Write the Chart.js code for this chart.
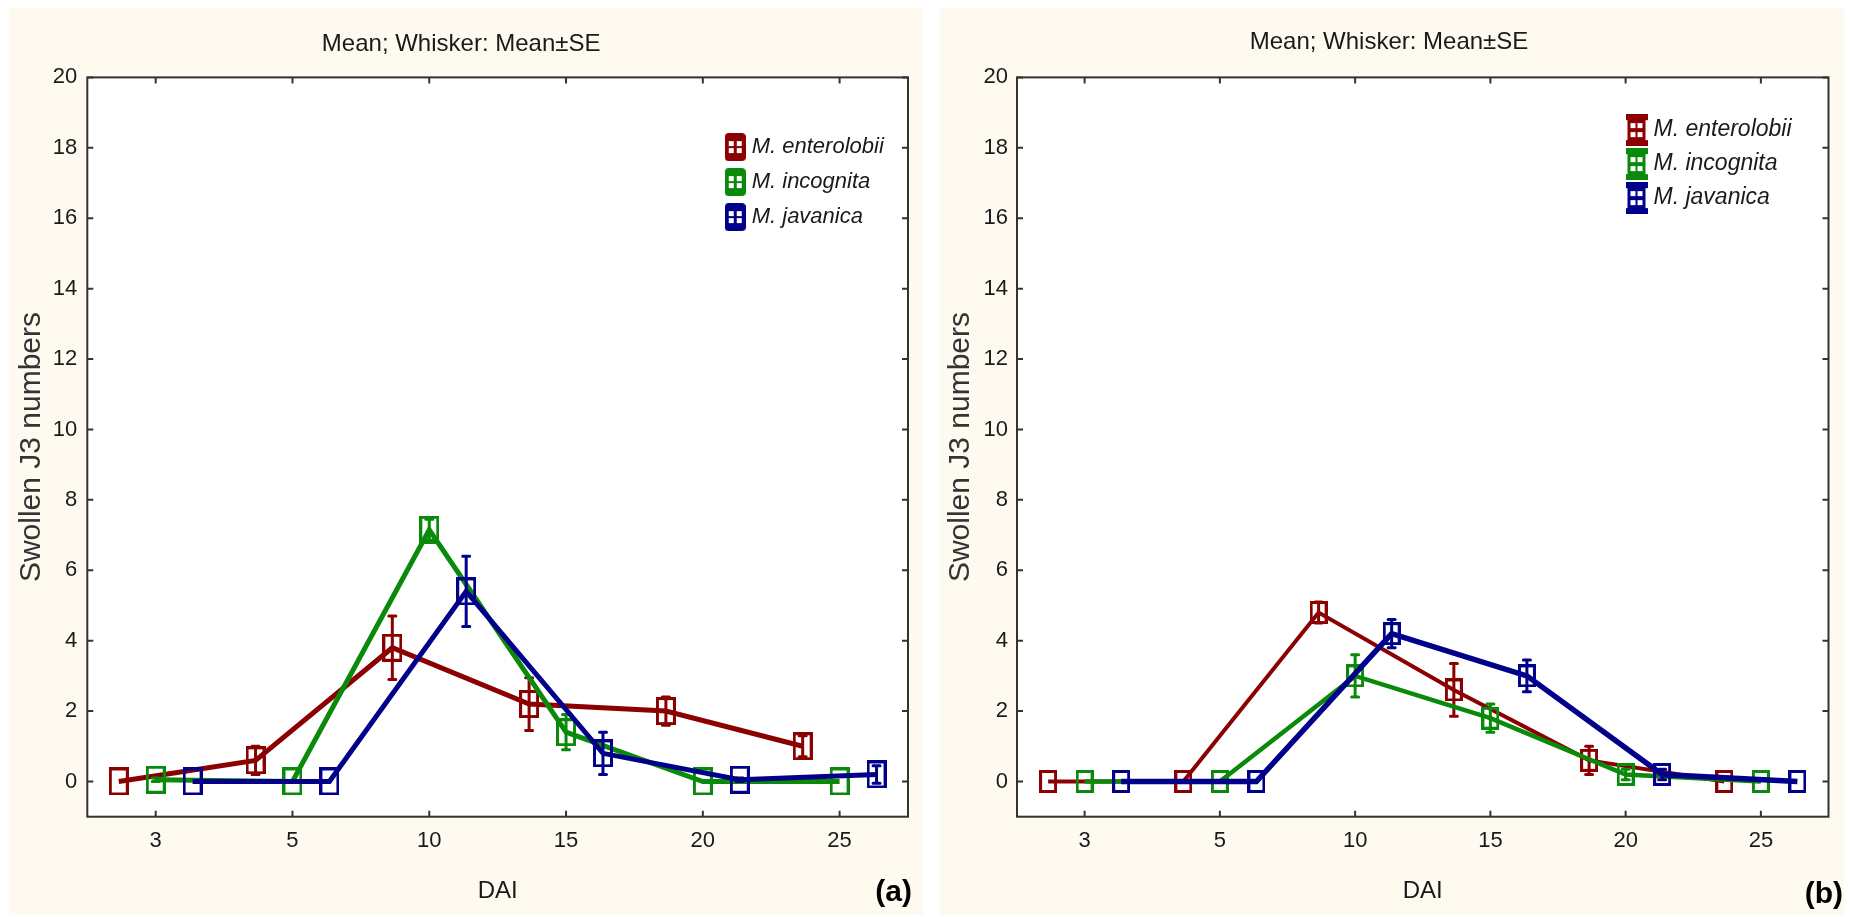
<!DOCTYPE html>
<html>
<head>
<meta charset="utf-8">
<script src="https://cdn.jsdelivr.net/npm/chart.js@4.4.1/dist/chart.umd.min.js"></script>
<style>
  body { margin: 0; background: #fff; width: 1854px; height: 917px; overflow: hidden; position: relative; }
  .panel { position: absolute; top: 8px; height: 907px; background: #fefaf0; }
  #pa { left: 9px; width: 914px; }
  #pb { left: 940px; width: 904px; }
  canvas { display: block; }
</style>
</head>
<body>
<div class="panel" id="pa"><canvas id="ca"></canvas></div>
<div class="panel" id="pb"><canvas id="cb"></canvas></div>
<script>
// ── Data ──
const DAI     = ['3', '5', '10', '15', '20', '25'];
const SERIES  = ['M. enterolobii', 'M. incognita', 'M. javanica'];
const Y_TICKS = [0, 2, 4, 6, 8, 10, 12, 14, 16, 18, 20];

// panel (a): mean and SE per DAI
const A_ENT    = [0.0, 0.6, 3.8, 2.2, 2.0, 1.0];
const A_ENT_SE = [0, 0.4, 0.9, 0.75, 0.4, 0.3];
const A_INC    = [0.05, 0.0, 7.15, 1.4, 0.0, 0.0];
const A_INC_SE = [0.05, 0, 0.3, 0.5, 0, 0];
const A_JAV    = [0.0, 0.0, 5.4, 0.8, 0.05, 0.2];
const A_JAV_SE = [0, 0, 1.0, 0.6, 0.05, 0.25];

// panel (b)
const B_ENT    = [0, 0, 4.8, 2.6, 0.6, 0];
const B_ENT_SE = [0, 0, 0.3, 0.75, 0.4, 0];
const B_INC    = [0, 0, 3.0, 1.8, 0.2, 0];
const B_INC_SE = [0, 0, 0.6, 0.4, 0.15, 0];
const B_JAV    = [0, 0, 4.2, 3.0, 0.2, 0];
const B_JAV_SE = [0, 0, 0.4, 0.45, 0.15, 0];

// ── Style ──
const COLORS = ['#8b0000', '#0a8a0a', '#00008b'];
const DODGE  = [-0.27, 0, 0.27];
const INK    = '#1a1a1a';

function hasFont(name) {
  const g = document.createElement('canvas').getContext('2d');
  const s = 'abcdefMW0123';
  for (const fb of ['monospace', 'serif']) {
    g.font = '40px ' + fb;
    const w0 = g.measureText(s).width;
    g.font = `40px "${name}", ${fb}`;
    if (g.measureText(s).width !== w0) return true;
  }
  return false;
}
const NARROW = hasFont('Liberation Sans Narrow');
const NF = NARROW ? '"Liberation Sans Narrow", "Liberation Sans", sans-serif' : '"Liberation Sans", Arial, sans-serif';
const TITLE_SIZE = NARROW ? 26 : 24;
const TICK_SIZE  = NARROW ? 24 : 22;
const DAI_SIZE   = NARROW ? 26 : 24;

// hollow box marker
function boxMarker(color, w, h, lw) {
  const c = document.createElement('canvas');
  c.width = w + lw; c.height = h + lw;
  const g = c.getContext('2d');
  g.strokeStyle = color; g.lineWidth = lw;
  g.strokeRect(lw / 2, lw / 2, w, h);
  return c;
}

// legend icons
function legendIconA(color) {
  const c = document.createElement('canvas');
  c.width = 21; c.height = 28;
  const g = c.getContext('2d');
  g.fillStyle = color;
  g.beginPath(); g.roundRect(0, 0, 21, 28, 4); g.fill();
  g.fillStyle = '#fff';
  [[4, 8], [12, 8], [4, 15], [12, 15]].forEach(([x, y]) => g.fillRect(x, y, 5, 5));
  return c;
}
function legendIconB(color) {
  const c = document.createElement('canvas');
  c.width = 22; c.height = 32;
  const g = c.getContext('2d');
  g.fillStyle = color;
  g.fillRect(0, 0, 22, 32);
  g.fillStyle = '#fff';
  g.fillRect(0, 6, 2, 20); g.fillRect(20, 6, 2, 20);
  [[5, 9], [12, 9], [5, 18], [12, 18]].forEach(([x, y]) => g.fillRect(x, y, 5, 5));
  return c;
}

function points(means, k) {
  return means.map((m, i) => ({ x: i + DODGE[k], y: m }));
}

// ── Plugins ──
const whiskers = {
  id: 'whiskers',
  afterDatasetDraw(chart, args) {
    const ds = chart.data.datasets[args.index];
    if (!ds.se) return;
    const { ctx, scales: { x, y } } = chart;
    const cap = 3.5;
    ctx.save();
    ctx.strokeStyle = ds.borderColor;
    ctx.lineWidth = ds.whiskerWidth;
    ctx.lineCap = 'round';
    ds.data.forEach((p, i) => {
      const e = ds.se[i];
      if (!e) return;
      const px = x.getPixelForValue(p.x);
      const top = y.getPixelForValue(p.y + e);
      const bot = y.getPixelForValue(p.y - e);
      ctx.beginPath();
      ctx.moveTo(px, top); ctx.lineTo(px, bot);
      ctx.moveTo(px - cap, top); ctx.lineTo(px + cap, top);
      ctx.moveTo(px - cap, bot); ctx.lineTo(px + cap, bot);
      ctx.stroke();
    });
    ctx.restore();
  }
};

const panelDecor = {
  id: 'panelDecor',
  beforeDraw(chart) {
    const { ctx, chartArea: a } = chart;
    ctx.save();
    ctx.fillStyle = '#fff';
    ctx.fillRect(a.left, a.top, a.width, a.height);
    ctx.restore();
  },
  afterDraw(chart, args, o) {
    const { ctx, chartArea: a, scales: { x, y } } = chart;
    ctx.save();
    // frame + inward ticks
    ctx.strokeStyle = '#333'; ctx.lineWidth = 2;
    ctx.strokeRect(a.left, a.top, a.width, a.height);
    ctx.beginPath();
    x.ticks.forEach(t => {
      const px = x.getPixelForValue(t.value);
      ctx.moveTo(px, a.bottom); ctx.lineTo(px, a.bottom - 6);
      ctx.moveTo(px, a.top); ctx.lineTo(px, a.top + 6);
    });
    y.ticks.forEach(t => {
      const py = y.getPixelForValue(t.value);
      ctx.moveTo(a.left, py); ctx.lineTo(a.left + 6, py);
      ctx.moveTo(a.right, py); ctx.lineTo(a.right - 6, py);
    });
    ctx.stroke();

    // panel letter
    ctx.fillStyle = '#000';
    ctx.font = 'bold 30px "Liberation Sans", Arial, sans-serif';
    ctx.textAlign = 'right'; ctx.textBaseline = 'middle';
    ctx.fillText(o.label, o.labelX, o.labelY);

    // legend
    ctx.textAlign = 'left';
    ctx.font = `italic ${o.legendSize}px "Liberation Sans", Arial, sans-serif`;
    chart.data.datasets.forEach((ds, k) => {
      const icon = ds.legendIcon;
      const lx = a.right + o.legendDX;
      const ly = a.top + o.legendDY + k * o.legendRow;
      ctx.drawImage(icon, lx, ly - icon.height / 2);
      ctx.fillStyle = INK;
      ctx.fillText(ds.label, lx + icon.width + 6, ly);
    });
    ctx.restore();
  }
};

// ── Chart builder ──
function buildPanel(canvasId, means, ses, g) {
  const datasets = means.map((m, k) => ({
    label: SERIES[k],
    data: points(m, k),
    se: ses[k],
    borderColor: COLORS[k],
    backgroundColor: COLORS[k],
    borderWidth: g.lineW[k],
    whiskerWidth: 3,
    pointStyle: boxMarker(COLORS[k], g.boxW, g.boxH, 3),
    pointRadius: 10,
    pointHoverRadius: 10,
    legendIcon: g.icon(COLORS[k]),
    tension: 0,
    fill: false,
    order: 3 - k,
  }));
  return new Chart(document.getElementById(canvasId), {
    type: 'line',
    data: { datasets },
    plugins: [whiskers, panelDecor],
    options: {
      responsive: true,
      maintainAspectRatio: false,
      animation: false,
      events: [],
      layout: { padding: { left: 0, right: g.padR, top: 0, bottom: 0 } },
      plugins: {
        legend: { display: false },
        tooltip: { enabled: false },
        title: {
          display: true,
          text: 'Mean; Whisker: Mean±SE',
          color: INK,
          font: { family: NF, size: TITLE_SIZE, weight: 'normal', lineHeight: 31.2 / TITLE_SIZE },
          padding: { top: g.titleTop, bottom: g.titleBottom },
        },
        panelDecor: g.decor,
      },
      scales: {
        x: {
          type: 'linear',
          min: -0.5, max: 5.5,
          afterBuildTicks: s => { s.ticks = DAI.map((_, i) => ({ value: i })); },
          afterFit: s => { s.height = 98.3; },
          grid: { display: false, drawTicks: false },
          border: { display: false },
          ticks: {
            callback: v => DAI[v],
            autoSkip: false, maxRotation: 0,
            color: INK, padding: 11,
            font: { family: NF, size: TICK_SIZE },
          },
          title: {
            display: true, text: 'DAI', color: INK,
            font: { family: NF, size: DAI_SIZE, lineHeight: 31.2 / DAI_SIZE },
            padding: { top: 0, bottom: 7.7 },
          },
        },
        y: {
          type: 'linear',
          min: -1, max: 20,
          afterBuildTicks: s => { s.ticks = Y_TICKS.map(v => ({ value: v })); },
          afterFit: s => { s.width = g.axisW; },
          grid: { display: false, drawTicks: false },
          border: { display: false },
          ticks: {
            color: INK, padding: g.yTickPad,
            font: { family: NF, size: TICK_SIZE },
          },
          title: {
            display: true, text: 'Swollen J3 numbers', color: '#333',
            font: { family: '"Liberation Sans", Arial, sans-serif', size: 30, lineHeight: 1.2 },
            padding: { top: g.yTitlePad, bottom: 0 },
          },
        },
      },
    },
  });
}

buildPanel('ca', [A_ENT, A_INC, A_JAV], [A_ENT_SE, A_INC_SE, A_JAV_SE], {
  axisW: 78.3, padR: 9.7, titleTop: 21, titleBottom: 17.2, yTitlePad: 5, yTickPad: 10,
  lineW: [5, 5, 5], boxW: 17, boxH: 25, icon: legendIconA,
  decor: { label: '(a)', labelX: 903, labelY: 885, legendDX: -183.3, legendDY: 69.7, legendRow: 35, legendSize: 22 },
});

buildPanel('cb', [B_ENT, B_INC, B_JAV], [B_ENT_SE, B_INC_SE, B_JAV_SE], {
  axisW: 77, padR: 6, titleTop: 18.5, titleBottom: 19.7, yTitlePad: 3, yTickPad: 9,
  lineW: [4, 4.5, 5.5], boxW: 15, boxH: 20, icon: legendIconB,
  decor: { label: '(b)', labelX: 903, labelY: 887, legendDX: -203, legendDY: 52.7, legendRow: 34, legendSize: 23 },
});
</script>
</body>
</html>
